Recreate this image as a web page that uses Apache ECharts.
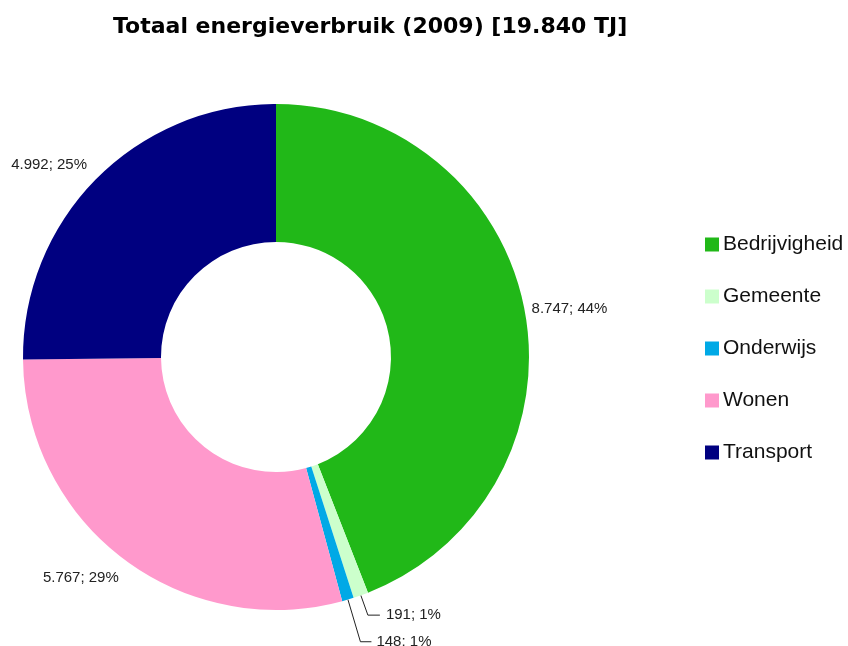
<!DOCTYPE html>
<html>
<head>
<meta charset="utf-8">
<script src="https://cdn.jsdelivr.net/npm/echarts@6/dist/echarts.min.js"></script>
<style>
  html, body { margin: 0; padding: 0; background: #fff; }
  #chart { width: 848px; height: 646px; }
</style>
</head>
<body>
<div id="chart"></div>
<script>
var categories = ['Bedrijvigheid', 'Gemeente', 'Onderwijs', 'Wonen', 'Transport'];
var values = [8747, 191, 148, 5767, 4992];
var colors = ['#21b818', '#ccffcc', '#00a9e6', '#ff99cc', '#000080'];

// per slice leader line (first segment, second segment, visible, label gap)
var lines = [
  [5, 0, false, 2],
  [21, 12, true, 6],
  [44, 11, true, 5],
  [24, 0, false, -10],
  [20, 0, false, -5]
];

function fmtNum(n) {
  return String(n).replace(/\B(?=(\d{3})+(?!\d))/g, '.');
}

var data = categories.map(function(name, i) {
  return {
    name: name,
    value: values[i],
    itemStyle: { color: colors[i] },
    label: { distanceToLabelLine: lines[i][3] },
    labelLine: {
      show: lines[i][2],
      length: lines[i][0],
      length2: lines[i][1],
      lineStyle: { color: '#222', width: 1 }
    }
  };
});

var chart = echarts.init(document.getElementById('chart'));
chart.setOption({
  animation: false,
  title: {
    text: 'Totaal energieverbruik (2009) [19.840 TJ]',
    left: 108,
    top: 11,
    textStyle: {
      fontFamily: 'DejaVu Sans',
      fontWeight: 'bold',
      fontSize: 22,
      color: '#000'
    }
  },
  legend: {
    orient: 'vertical',
    left: 705,
    top: 234,
    padding: 0,
    itemWidth: 14,
    itemHeight: 14,
    itemGap: 31,
    icon: 'rect',
    textStyle: {
      fontFamily: 'Liberation Sans',
      fontSize: 21,
      color: '#111',
      padding: [0, 0, 0, -1]
    },
    data: categories
  },
  series: [{
    type: 'pie',
    center: [276, 357],
    radius: [115, 253],
    startAngle: 90,
    clockwise: true,
    avoidLabelOverlap: false,
    label: {
      show: true,
      fontFamily: 'Liberation Sans',
      fontSize: 15,
      color: '#222',
      formatter: function(p) {
        return fmtNum(p.value) + '; ' + Math.round(p.percent) + '%';
      }
    },
    emphasis: { disabled: true },
    data: data
  }]
});
</script>
</body>
</html>
